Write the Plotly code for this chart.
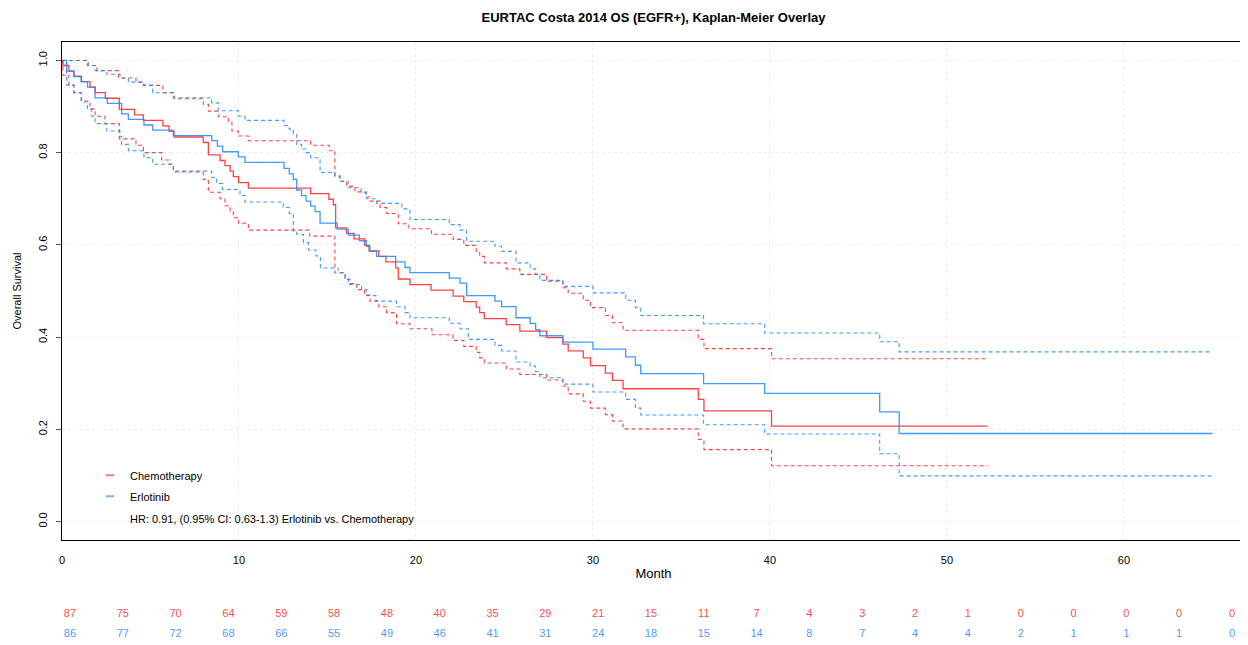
import plotly.graph_objects as go

# ---------- DADOS ----------
chemo_time = [0, 0.05, 0.39, 0.67, 1.1, 1.58, 1.87, 2.45, 3.24, 4.1, 4.6, 5.7, 6.05, 6.33, 7.98, 8.27, 8.93, 9.21, 9.5, 9.68,
              9.98, 10.53, 14.05, 15.08, 15.33, 15.46, 16.08, 16.5, 17.1, 17.35, 17.9, 18.3, 18.85, 19.0, 19.66, 20.85, 22.1,
              22.7, 23.4, 23.6, 23.86, 25.1, 25.87, 27.38, 28.3, 28.6, 29.45, 29.86, 30.7, 31.1, 31.7, 35.95, 36.27, 40.09, 52.3]
chemo_surv = [1.0, 0.989, 0.977, 0.966, 0.954, 0.942, 0.930, 0.918, 0.894, 0.882, 0.870, 0.858, 0.846, 0.834, 0.822, 0.795,
              0.783, 0.772, 0.760, 0.748, 0.735, 0.723, 0.711, 0.699, 0.687, 0.637, 0.625, 0.613, 0.599, 0.587, 0.575, 0.563,
              0.550, 0.526, 0.514, 0.502, 0.489, 0.477, 0.465, 0.453, 0.440, 0.427, 0.413, 0.399, 0.385, 0.370, 0.355, 0.338,
              0.322, 0.306, 0.288, 0.265, 0.240, 0.207, 0.207]

chemo_up_time = [0, 1.43, 1.97, 3.2, 4.18, 4.6, 5.7, 6.33, 7.98, 8.27, 8.83, 9.4, 9.6, 9.96, 10.53, 14.05, 15.1, 15.42, 15.7,
                 16.08, 16.55, 17.17, 17.4, 17.97, 18.34, 19.0, 19.6, 20.88, 22.1, 22.7, 23.4, 23.6, 23.86, 25.1, 25.87,
                 27.38, 28.3, 28.6, 29.45, 29.86, 30.7, 31.1, 31.7, 35.95, 36.27, 40.09, 52.3]
chemo_up = [1.0, 0.989, 0.978, 0.962, 0.953, 0.946, 0.930, 0.917, 0.905, 0.890, 0.878, 0.868, 0.847, 0.836, 0.826, 0.816,
            0.804, 0.750, 0.738, 0.727, 0.715, 0.704, 0.695, 0.681, 0.668, 0.646, 0.635, 0.623, 0.612, 0.599, 0.587, 0.575,
            0.561, 0.548, 0.536, 0.521, 0.507, 0.495, 0.480, 0.464, 0.447, 0.431, 0.415, 0.395, 0.375, 0.353, 0.353]

chemo_lo_time = [0, 0.05, 0.39, 0.67, 1.1, 1.58, 1.87, 2.43, 3.24, 4.18, 4.6, 5.63, 6.05, 6.29, 7.98, 8.27, 8.93, 9.21, 9.5,
                 9.68, 9.98, 10.53, 14.0, 15.42, 16.0, 16.27, 16.65, 17.1, 17.4, 17.9, 18.34, 18.9, 19.66, 20.9, 22.1, 22.7,
                 23.4, 23.6, 23.86, 25.1, 25.87, 27.38, 28.3, 28.6, 29.45, 29.86, 30.7, 31.1, 31.7, 35.95, 36.27, 40.09, 52.3]
chemo_lo = [1.0, 0.968, 0.946, 0.930, 0.912, 0.895, 0.879, 0.863, 0.830, 0.816, 0.800, 0.784, 0.775, 0.758, 0.742, 0.714,
            0.700, 0.685, 0.672, 0.659, 0.647, 0.632, 0.619, 0.539, 0.525, 0.516, 0.503, 0.491, 0.478, 0.466, 0.453, 0.429,
            0.418, 0.405, 0.393, 0.380, 0.367, 0.355, 0.344, 0.331, 0.319, 0.307, 0.294, 0.277, 0.261, 0.246, 0.232, 0.218,
            0.201, 0.178, 0.156, 0.121, 0.121]

erl_time = [0, 0.26, 0.68, 1.08, 1.44, 1.87, 2.56, 3.37, 3.75, 4.63, 5.12, 6.29, 8.46, 8.78, 9.08, 9.96, 10.34, 12.54,
            12.84, 13.07, 13.26, 13.54, 13.79, 14.05, 14.3, 14.58, 15.55, 16.18, 16.8, 17.2, 17.4, 17.78, 18.85, 19.38,
            19.66, 21.88, 22.49, 22.86, 24.46, 24.84, 25.65, 26.45, 26.76, 27.0, 28.3, 30.0, 31.85, 32.4, 32.7, 36.25,
            39.7, 46.2, 47.3, 65.0]
erl_surv = [1.0, 0.977, 0.965, 0.954, 0.942, 0.919, 0.907, 0.884, 0.872, 0.860, 0.849, 0.837, 0.826, 0.814, 0.802, 0.791,
            0.779, 0.766, 0.754, 0.742, 0.719, 0.707, 0.695, 0.684, 0.672, 0.647, 0.634, 0.621, 0.609, 0.597, 0.586, 0.575,
            0.563, 0.551, 0.540, 0.528, 0.517, 0.490, 0.478, 0.466, 0.442, 0.430, 0.416, 0.403, 0.389, 0.374, 0.357, 0.339,
            0.321, 0.299, 0.278, 0.238, 0.191, 0.191]

erl_up_time = [0, 1.49, 1.87, 2.53, 3.28, 3.75, 4.63, 5.12, 6.29, 8.46, 8.83, 9.96, 10.34, 12.54, 12.84, 13.07, 13.26,
               13.54, 13.79, 14.05, 14.58, 15.42, 15.7, 16.17, 16.9, 17.2, 17.78, 19.2, 19.66, 21.88, 22.49, 22.86, 24.46,
               24.84, 25.65, 26.45, 26.76, 27.0, 28.3, 30.0, 31.85, 32.4, 32.7, 36.25, 39.7, 46.2, 47.3, 65.0]
erl_up = [1.0, 0.989, 0.978, 0.970, 0.962, 0.953, 0.946, 0.930, 0.919, 0.908, 0.891, 0.879, 0.870, 0.859, 0.851, 0.840,
          0.818, 0.808, 0.800, 0.789, 0.757, 0.749, 0.738, 0.724, 0.713, 0.700, 0.690, 0.678, 0.655, 0.644, 0.632, 0.608,
          0.597, 0.586, 0.561, 0.548, 0.536, 0.523, 0.510, 0.496, 0.480, 0.464, 0.447, 0.429, 0.409, 0.390, 0.368, 0.368]

erl_lo_time = [0, 0.26, 0.68, 1.08, 1.44, 1.68, 1.87, 2.53, 3.28, 3.37, 3.75, 4.63, 5.12, 6.29, 8.46, 8.74, 9.06, 10.06,
               10.34, 12.5, 12.84, 13.07, 13.26, 13.64, 13.92, 14.35, 14.6, 15.6, 15.99, 16.18, 16.93, 17.21, 17.74, 18.9,
               19.38, 19.66, 21.88, 22.49, 22.96, 24.46, 24.84, 25.65, 26.45, 26.76, 27.0, 28.3, 30.0, 31.85, 32.4, 32.7,
               36.25, 39.7, 46.2, 47.3, 65.0]
erl_lo = [1.0, 0.947, 0.930, 0.910, 0.894, 0.879, 0.863, 0.847, 0.835, 0.818, 0.804, 0.789, 0.775, 0.760, 0.746, 0.733,
          0.720, 0.707, 0.693, 0.681, 0.668, 0.630, 0.623, 0.605, 0.589, 0.576, 0.550, 0.540, 0.528, 0.514, 0.503, 0.490,
          0.478, 0.466, 0.453, 0.442, 0.430, 0.418, 0.395, 0.382, 0.370, 0.346, 0.337, 0.325, 0.312, 0.298, 0.281, 0.265,
          0.246, 0.231, 0.210, 0.190, 0.147, 0.099, 0.099]

# tabela de pacientes em risco
risk_months = [0, 3, 6, 9, 12, 15, 18, 21, 24, 27, 30, 33, 36, 39, 42, 45, 48, 51, 54, 57, 60, 63, 66]
chemo_risk = [87, 75, 70, 64, 59, 58, 48, 40, 35, 29, 21, 15, 11, 7, 4, 3, 2, 1, 0, 0, 0, 0, 0]
erl_risk = [86, 77, 72, 68, 66, 55, 49, 46, 41, 31, 24, 18, 15, 14, 8, 7, 4, 4, 2, 1, 1, 1, 0]

groups = ['Chemotherapy', 'Erlotinib']
hr_text = 'HR: 0.91, (0.95% CI: 0.63-1.3) Erlotinib vs. Chemotherapy'

RED = 'rgba(255, 20, 20, 0.8)'
BLUE = 'rgba(30, 136, 255, 0.85)'
FONT = 'Liberation Sans, Arial, sans-serif'

# a página html tem 8px de margem no body: a figura desconta isso
W, H = 1240, 637


def step_line(x, y, color, dash='solid', width=1.3):
    return go.Scatter(
        x=x, y=y, mode='lines', line_shape='hv',
        line=dict(color=color, width=width, dash=dash),
        showlegend=False, hoverinfo='skip'
    )


fig = go.Figure()

# curvas de sobrevida + IC
fig.add_trace(step_line(chemo_up_time, chemo_up, RED, dash='4px,3px', width=1.1))
fig.add_trace(step_line(chemo_lo_time, chemo_lo, RED, dash='4px,3px', width=1.1))
fig.add_trace(step_line(erl_up_time, erl_up, BLUE, dash='4px,3px', width=1.1))
fig.add_trace(step_line(erl_lo_time, erl_lo, BLUE, dash='4px,3px', width=1.1))
fig.add_trace(step_line(chemo_time, chemo_surv, RED))
fig.add_trace(step_line(erl_time, erl_surv, BLUE))

# entradas da legenda (traço curto)
for name, col, grp in [(groups[0], 'rgba(255, 90, 90, 0.8)', 'a'), (groups[1], 'rgba(80, 160, 255, 0.8)', 'b')]:
    fig.add_trace(go.Scatter(
        x=[None], y=[None], mode='markers', name=name, legendgroup=grp,
        marker=dict(symbol='line-ew-open', size=6, color=col, line=dict(color=col, width=2))
    ))

# números em risco
for counts, col, row in [(chemo_risk, RED, 1), (erl_risk, BLUE, 0)]:
    fig.add_trace(go.Scatter(
        x=risk_months, y=[row] * len(risk_months), mode='text',
        text=[str(c) for c in counts],
        textfont=dict(color=col, size=11, family=FONT),
        xaxis='x2', yaxis='y2', showlegend=False, hoverinfo='skip'
    ))

fig.add_annotation(
    text=hr_text, xref='paper', yref='paper', x=0.0558, y=0.2023,
    xanchor='left', yanchor='middle', showarrow=False,
    font=dict(size=11, color='black', family=FONT)
)

fig.update_layout(
    width=W,
    height=H,
    margin=dict(l=54, r=3, t=34, b=5),
    plot_bgcolor='white',
    paper_bgcolor='white',
    font=dict(family=FONT, color='black', size=11),
    title=dict(
        text='<b>EURTAC Costa 2014 OS (EGFR+), Kaplan-Meier Overlay</b>',
        x=0.5, xref='paper', y=1 - 9 / H, yanchor='middle',
        font=dict(size=13, color='black', family=FONT)
    ),
    showlegend=True,
    legend=dict(
        x=0.0237, y=0.2996, xanchor='left', yanchor='top',
        bgcolor='rgba(0,0,0,0)', borderwidth=0,
        font=dict(size=11, color='black', family=FONT),
        itemwidth=30, tracegroupgap=2
    ),
    xaxis=dict(
        domain=[0, 1], anchor='y', automargin=False,
        range=[0, 66.84],
        tickvals=[0, 10, 20, 30, 40, 50, 60],
        ticks='', ticklabelstandoff=10,
        tickfont=dict(size=11),
        showline=True, linecolor='black', linewidth=1, mirror=True,
        showgrid=True, gridcolor='#ececec', griddash='dot', gridwidth=1,
        zeroline=False,
        title=dict(text='Month', font=dict(size=13), standoff=3)
    ),
    yaxis=dict(
        domain=[100 / 598, 1], anchor='x', automargin=False,
        range=[-0.04, 1.04],
        tickvals=[0, 0.2, 0.4, 0.6, 0.8, 1.0],
        tickformat='.1f', tickangle=-90,
        ticks='outside', ticklen=5, tickcolor='#555555',
        ticklabelstandoff=5,
        tickfont=dict(size=11),
        showline=True, linecolor='black', linewidth=1, mirror=True,
        showgrid=True, gridcolor='#ececec', griddash='dot', gridwidth=1,
        zeroline=False,
        title=dict(text='Overall Survival', font=dict(size=11), standoff=12)
    ),
    xaxis2=dict(
        domain=[0, 1], anchor='y2', range=[-0.454, 66.74],
        visible=False, showgrid=False, zeroline=False
    ),
    yaxis2=dict(
        domain=[0, 59.8 / 598], anchor='x2', range=[-0.3, 2.69],
        visible=False, showgrid=False, zeroline=False
    )
)

fig.write_html("out.html")
